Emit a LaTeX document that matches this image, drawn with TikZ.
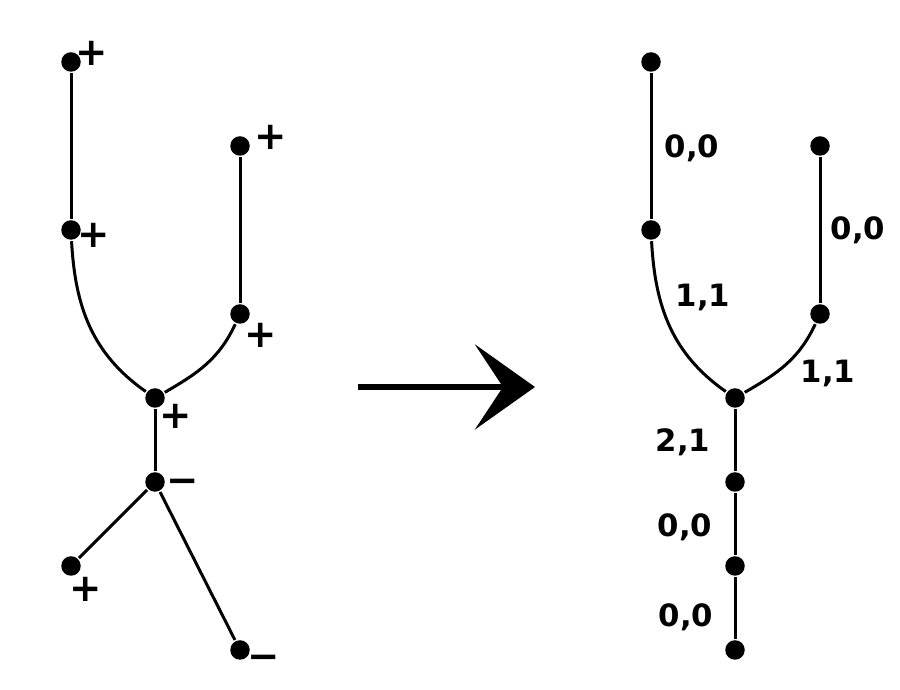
\documentclass[tikz,border=0pt]{standalone}
\usepackage{fontspec}
\setmainfont{DejaVu Sans}
\usetikzlibrary{arrows.meta}

\begin{document}
\begin{tikzpicture}[
    dot/.style={circle, fill, inner sep=0pt, minimum size=0.39cm},
    sgn/.style={inner sep=0pt, font=\fontsize{22}{24}\selectfont\bfseries},
    wt/.style={inner sep=0pt, anchor=base, font=\fontsize{17.5}{20}\selectfont\bfseries},
    every path/.style={line width=0.06cm}
  ]
  \useasboundingbox (0,0) rectangle (18,13.8);
  % left tree with signs
  \node[dot] (l1) at (1.42, 12.56) {};
  \node[dot] (l2) at (1.42, 9.2) {};
  \node[dot] (l3) at (4.8, 10.88) {};
  \node[dot] (l4) at (4.8, 7.52) {};
  \node[dot] (l5) at (3.1, 5.84) {};
  \node[dot] (l6) at (3.1, 4.16) {};
  \node[dot] (l7) at (1.42, 2.48) {};
  \node[dot] (l8) at (4.8, 0.8) {};
  \draw (l1) -- (l2);
  \draw (l2) to[out=-87, in=145] (l5);
  \draw (l3) -- (l4);
  \draw (l4) to[out=-115, in=30] (l5);
  \draw (l5) -- (l6);
  \draw (l6) -- (l7);
  \draw (l6) -- (l8);
  \node[sgn] (s1) at (1.84, 12.74) {+};
  \node[sgn] (s2) at (1.88, 9.1) {+};
  \node[sgn] (s3) at (5.42, 11.06) {+};
  \node[sgn] (s4) at (5.22, 7.1) {+};
  \node[sgn] (s5) at (3.52, 5.48) {+};
  \node[sgn] (s6) at (3.66, 4.08) {−};
  \node[sgn] (s7) at (1.72, 2.02) {+};
  \node[sgn] (s8) at (5.28, 0.56) {−};
  % arrow
  \coordinate (from) at (7.16, 6.06);
  \coordinate (to) at (10.7, 6.06);
  \draw[line width=0.12cm, -{Stealth[length=1.2cm, width=1.7cm, inset=0.56cm]}] (from) -- (to);
  % right tree with weights
  \node[dot] (r1) at (13.02, 12.56) {};
  \node[dot] (r2) at (13.02, 9.2) {};
  \node[dot] (r3) at (16.4, 10.88) {};
  \node[dot] (r4) at (16.4, 7.52) {};
  \node[dot] (r5) at (14.7, 5.84) {};
  \node[dot] (r6) at (14.7, 4.16) {};
  \node[dot] (r7) at (14.7, 2.48) {};
  \node[dot] (r8) at (14.7, 0.8) {};
  \draw (r1) -- (r2);
  \draw (r2) to[out=-87, in=145] (r5);
  \draw (r3) -- (r4);
  \draw (r4) to[out=-115, in=30] (r5);
  \draw (r5) -- (r6);
  \draw (r6) -- (r7);
  \draw (r7) -- (r8);
  \node[wt] (w1) at (13.84, 10.64) {0,0};
  \node[wt] (w2) at (17.16, 9.0) {0,0};
  \node[wt] (w3) at (14.06, 7.66) {1,1};
  \node[wt] (w4) at (16.56, 6.14) {1,1};
  \node[wt] (w5) at (13.66, 4.76) {2,1};
  \node[wt] (w6) at (13.7, 3.06) {0,0};
  \node[wt] (w7) at (13.72, 1.26) {0,0};
\end{tikzpicture}
\end{document}
